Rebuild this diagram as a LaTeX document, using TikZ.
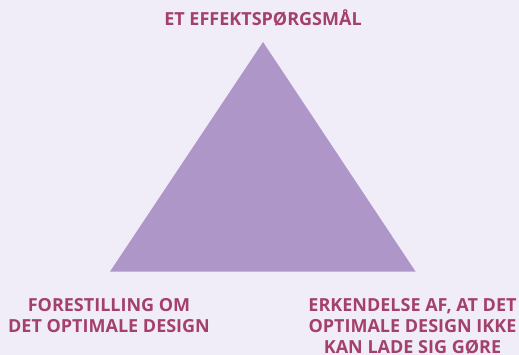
\documentclass[tikz,border=0pt]{standalone}
\usepackage{fontspec}
\setmainfont{Open Sans}
\usepackage{xcolor}
\usetikzlibrary{positioning}
\definecolor{bgLilla}{HTML}{F1EDF8}
\definecolor{trekantLilla}{HTML}{AE96C8}
\definecolor{tekstRoed}{HTML}{A3406C}

\begin{document}
\begin{tikzpicture}[
	x=1pt,y=-1pt,
	mylabel/.style={
		font=\bfseries\fontsize{18}{21}\selectfont,
		text=tekstRoed,
		align=center,
		inner sep=0pt},
	]
	\fill[bgLilla] (0,0) rectangle (519,355);
	\useasboundingbox (0,0) rectangle (519,355);
	
	% corners of the triangle
	\coordinate (cTop) at (263,42);
	\coordinate (cLeft) at (110,271.5);
	\coordinate (cRight) at (415.5,271.5);
	\fill[trekantLilla] (cTop) -- (cLeft) -- (cRight) -- cycle;
	
	\node[mylabel,anchor=base] (qTop) at (263,25.5) {ET EFFEKTSPØRGSMÅL};
	\node[mylabel,anchor=north] (qLeft) at (109,298) {FORESTILLING OM\\DET OPTIMALE DESIGN};
	\node[mylabel,anchor=north] (qRight) at (412.5,298) {ERKENDELSE AF, AT DET\\OPTIMALE DESIGN IKKE\\KAN LADE SIG GØRE};
	
\end{tikzpicture}
\end{document}
